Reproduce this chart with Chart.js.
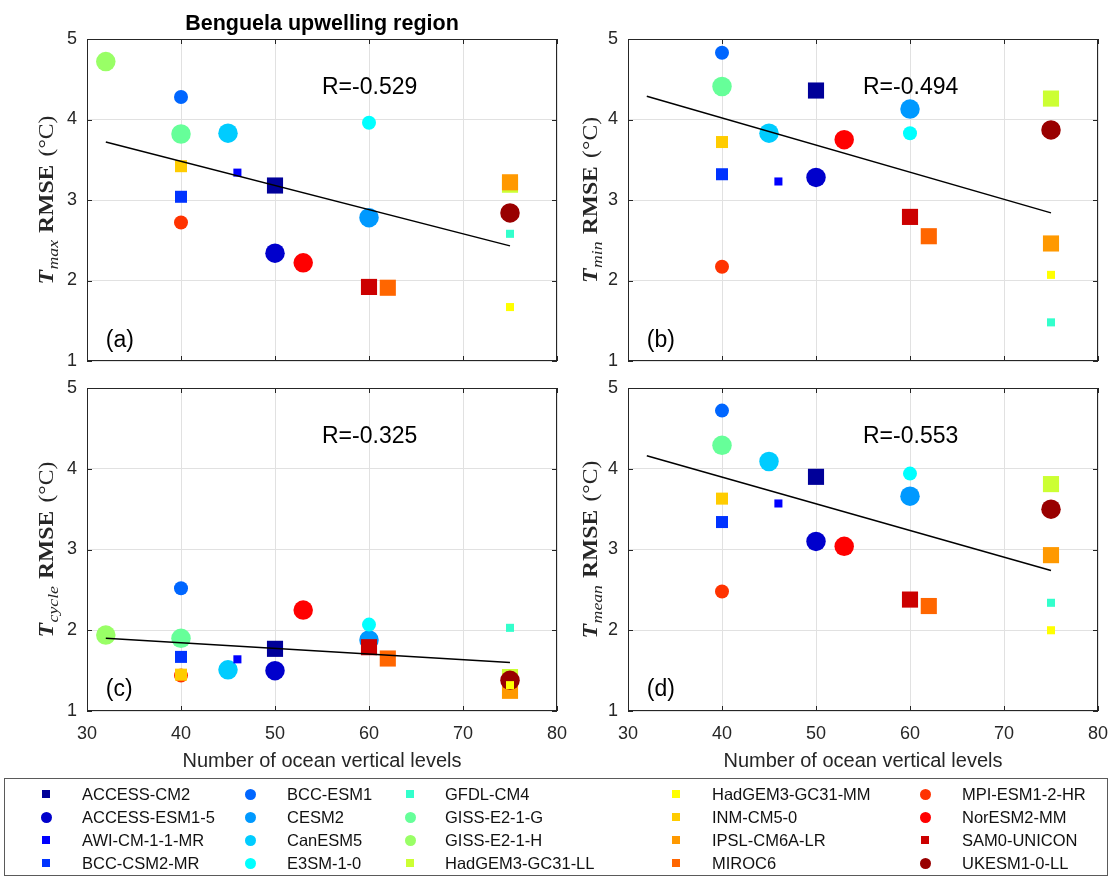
<!DOCTYPE html>
<html>
<head>
<meta charset="utf-8">
<title>Benguela upwelling region</title>
<script src="https://cdn.jsdelivr.net/npm/chart.js@4.4.1/dist/chart.umd.min.js"></script>
<style>
    body { margin: 0; background: #fff; width: 1112px; height: 878px; position: relative; overflow: hidden;
           font-family: "Liberation Sans", Arial, sans-serif; }
    canvas { position: absolute; }
    #legendBox { position: absolute; left: 4px; top: 778px; width: 1104px; height: 98px;
                 border: 1px solid #5a5a5a; box-sizing: border-box; }
    .lgText { position: absolute; font-size: 16.5px; line-height: 20px; color: #111; white-space: nowrap; }
    .lgMark { position: absolute; }
</style>
</head>
<body>
<canvas id="chartA" width="580" height="395" style="left:0;top:0"></canvas>
<canvas id="chartB" width="582" height="395" style="left:540px;top:0"></canvas>
<canvas id="chartC" width="580" height="442" style="left:0;top:350px"></canvas>
<canvas id="chartD" width="582" height="442" style="left:540px;top:350px"></canvas>
<div id="legendBox"></div>

<script>
// data
const models = ["ACCESS-CM2", "ACCESS-ESM1-5", "AWI-CM-1-1-MR", "BCC-CSM2-MR", "BCC-ESM1",
    "CESM2", "CanESM5", "E3SM-1-0", "GFDL-CM4", "GISS-E2-1-G",
    "GISS-E2-1-H", "HadGEM3-GC31-LL", "HadGEM3-GC31-MM", "INM-CM5-0", "IPSL-CM6A-LR",
    "MIROC6", "MPI-ESM1-2-HR", "NorESM2-MM", "SAM0-UNICON", "UKESM1-0-LL"];
const levels = [50, 50, 46, 40, 40, 60, 45, 60, 75, 40, 32, 75, 75, 40, 75, 62, 40, 53, 60, 75];

const tmaxRmse = [3.18, 2.34, 3.34, 3.04, 4.28, 2.78, 3.83, 3.96, 2.58, 3.82,
    4.72, 3.19, 1.67, 3.42, 3.22, 1.91, 2.72, 2.22, 1.92, 2.84];
// GISS-E2-1-H is off the axis (above 5) in (b) and (d)
const tminRmse = [4.36, 3.28, 3.23, 3.32, 4.83, 4.13, 3.83, 3.83, 1.48, 4.41,
    null, 4.26, 2.07, 3.72, 2.46, 2.55, 2.17, 3.75, 2.79, 3.87];
const tcycleRmse = [1.77, 1.50, 1.64, 1.67, 2.52, 1.88, 1.51, 2.07, 2.03, 1.90,
    1.94, 1.42, 1.32, 1.45, 1.25, 1.65, 1.44, 2.25, 1.79, 1.38];
const tmeanRmse = [3.90, 3.10, 3.57, 3.34, 4.72, 3.66, 4.09, 3.94, 2.34, 4.29,
    null, 3.81, 2.00, 3.63, 2.93, 2.30, 2.48, 3.04, 2.38, 3.50];

// fitted lines (end points)
const trendX = [32, 75];
const trendMax = [3.72, 2.43];
const trendMin = [4.29, 2.84];
const trendCycle = [1.90, 1.60];
const trendMean = [4.16, 2.74];

const rLabels = ["R=-0.529", "R=-0.494", "R=-0.325", "R=-0.553"];
const panelLetters = ["(a)", "(b)", "(c)", "(d)"];
const xTicks = [30, 40, 50, 60, 70, 80];
const yTicks = [1, 2, 3, 4, 5];

// styles
const colors = ["#000099", "#0000cc", "#0000ff", "#0033ff", "#0066ff",
    "#0099ff", "#00ccff", "#00ffff", "#33ffcc", "#66ff99",
    "#99ff66", "#ccff33", "#ffff00", "#ffcc00", "#ff9900",
    "#ff6600", "#ff3300", "#ff0000", "#cc0000", "#990000"];
const markerKinds = ["bigSq", "bigCi", "smSq", "mdSq", "mdCi",
    "bigCi", "bigCi", "mdCi", "smSq", "bigCi",
    "bigCi", "bigSq", "smSq", "mdSq", "bigSq",
    "bigSq", "mdCi", "bigCi", "bigSq", "bigCi"];
const kindStyle = {
    bigCi: { shape: "circle", r: 9.75, layer: 0 },
    bigSq: { shape: "rect", r: 11.4, layer: 0 },
    mdCi: { shape: "circle", r: 7, layer: 1 },
    mdSq: { shape: "rect", r: 8.5, layer: 2 },
    smSq: { shape: "rect", r: 5.7, layer: 3 }
};
const AXIS = "#262626";
const SERIF = '"Liberation Serif", "Times New Roman", serif';

Chart.defaults.font.family = '"Liberation Sans", Arial, sans-serif';

function drawYLabel(ctx, baseX, centerY, sub) {
    const parts = [
        { t: "T", f: "italic bold 20px " + SERIF, dy: 0, gap: 0 },
        { t: sub, f: "italic 15px " + SERIF, dy: 5, gap: 0.5 },
        { t: "RMSE", f: "bold 20px " + SERIF, dy: 0, gap: 6 },
        { t: "(°C)", f: "20px " + SERIF, dy: 0, gap: 7 }
    ];
    ctx.save();
    ctx.translate(baseX, centerY);
    ctx.rotate(-Math.PI / 2);
    ctx.scale(1.18, 1);
    let total = 0;
    parts.forEach(p => {
        ctx.font = p.f;
        p.w = ctx.measureText(p.t).width;
        total += p.gap + p.w;
    });
    let xx = -total / 2;
    ctx.fillStyle = AXIS;
    ctx.textBaseline = "alphabetic";
    ctx.textAlign = "left";
    parts.forEach(p => {
        xx += p.gap;
        ctx.font = p.f;
        ctx.fillText(p.t, xx, p.dy);
        xx += p.w;
    });
    ctx.restore();
}

const panelDeco = {
    id: "panelDeco",
    afterDraw(chart, args, opts) {
        const ctx = chart.ctx;
        const a = chart.chartArea;
        const x = chart.scales.x;
        const y = chart.scales.y;
        ctx.save();

        // box and inward ticks
        ctx.strokeStyle = AXIS;
        ctx.lineWidth = 1;
        ctx.strokeRect(a.left + 0.5, a.top + 0.5, a.right - a.left - 1, a.bottom - a.top - 1);
        ctx.beginPath();
        xTicks.forEach(v => {
            const px = Math.round(x.getPixelForValue(v)) + 0.5;
            ctx.moveTo(px, a.bottom); ctx.lineTo(px, a.bottom - 5);
            ctx.moveTo(px, a.top); ctx.lineTo(px, a.top + 5);
        });
        yTicks.forEach(v => {
            const py = Math.round(y.getPixelForValue(v)) + 0.5;
            ctx.moveTo(a.left, py); ctx.lineTo(a.left + 5, py);
            ctx.moveTo(a.right, py); ctx.lineTo(a.right - 5, py);
        });
        ctx.stroke();

        // R value and panel letter
        ctx.fillStyle = "#000";
        ctx.font = '23px "Liberation Sans", Arial, sans-serif';
        ctx.textAlign = "left";
        ctx.textBaseline = "alphabetic";
        ctx.fillText(opts.r, x.getPixelForValue(55), y.getPixelForValue(4.32));
        ctx.fillText(opts.letter, x.getPixelForValue(32), y.getPixelForValue(1.18));

        drawYLabel(ctx, a.left - opts.labelGap, (a.top + a.bottom) / 2, opts.sub);

        if (opts.title) {
            ctx.fillStyle = "#000";
            ctx.font = 'bold 21.5px "Liberation Sans", Arial, sans-serif';
            ctx.textAlign = "center";
            ctx.fillText(opts.title, (a.left + a.right) / 2, a.top - 9);
        }
        if (opts.xTitle) {
            ctx.fillStyle = AXIS;
            ctx.font = '20px "Liberation Sans", Arial, sans-serif';
            ctx.textAlign = "center";
            ctx.fillText(opts.xTitle, (a.left + a.right) / 2, a.bottom + 56);
        }
        ctx.restore();
    }
};

function makePanel(canvasId, values, trend, deco, box) {
    const datasets = models.map((name, i) => {
        const k = kindStyle[markerKinds[i]];
        return {
            label: name,
            data: values[i] === null ? [] : [{ x: levels[i], y: values[i] }],
            pointStyle: k.shape,
            pointRadius: k.r,
            pointHoverRadius: k.r,
            backgroundColor: colors[i],
            borderWidth: 0,
            order: 1000 - (k.layer * 100 + i)
        };
    });
    datasets.push({
        type: "line",
        label: "fit",
        data: trendX.map((v, k) => ({ x: v, y: trend[k] })),
        borderColor: "#000",
        borderWidth: 1.5,
        pointRadius: 0,
        fill: false,
        order: 0
    });

    const gridStyle = { color: "#e1e1e1", lineWidth: 1, drawTicks: false };
    new Chart(document.getElementById(canvasId), {
        type: "scatter",
        data: { datasets: datasets },
        options: {
            responsive: false,
            animation: false,
            devicePixelRatio: 1,
            events: [],
            layout: { padding: box.padding },
            plugins: {
                legend: { display: false },
                tooltip: { enabled: false },
                panelDeco: deco
            },
            scales: {
                x: {
                    type: "linear", min: 30, max: 80,
                    ticks: { stepSize: 10, display: box.showX, padding: 12, color: AXIS, font: { size: 18 } },
                    grid: gridStyle,
                    border: { display: false },
                    afterFit: s => { s.height = box.xHeight; }
                },
                y: {
                    type: "linear", min: 1, max: 5,
                    ticks: { stepSize: 1, padding: 10, color: AXIS, font: { size: 18 } },
                    grid: gridStyle,
                    border: { display: false },
                    afterFit: s => { s.width = box.yWidth; }
                }
            }
        },
        plugins: [panelDeco]
    });
}

const xTitle = "Number of ocean vertical levels";

// plot areas: (a) 87-557 x 39-361, (b) 628-1098 x 39-361, (c)/(d) same columns at 388-711
makePanel("chartA", tmaxRmse, trendMax,
    { r: rLabels[0], letter: panelLetters[0], sub: "max", labelGap: 34, title: "Benguela upwelling region" },
    { padding: { left: 0, top: 39, right: 23, bottom: 26 }, yWidth: 87, xHeight: 8, showX: false });
makePanel("chartB", tminRmse, trendMin,
    { r: rLabels[1], letter: panelLetters[1], sub: "min", labelGap: 31 },
    { padding: { left: 0, top: 39, right: 24, bottom: 26 }, yWidth: 88, xHeight: 8, showX: false });
makePanel("chartC", tcycleRmse, trendCycle,
    { r: rLabels[2], letter: panelLetters[2], sub: "cycle", labelGap: 34, xTitle: xTitle },
    { padding: { left: 0, top: 38, right: 23, bottom: 41 }, yWidth: 87, xHeight: 40, showX: true });
makePanel("chartD", tmeanRmse, trendMean,
    { r: rLabels[3], letter: panelLetters[3], sub: "mean", labelGap: 31, xTitle: xTitle },
    { padding: { left: 0, top: 38, right: 24, bottom: 41 }, yWidth: 88, xHeight: 40, showX: true });

// legend below the panels
const legendMarkX = [46, 250, 410, 676, 925];
const legendTextX = [82, 287, 445, 712, 962];
const legendRowY = [794, 817, 840, 863];

models.forEach((name, i) => {
    const col = Math.floor(i / 4);
    const row = i % 4;
    const k = kindStyle[markerKinds[i]];
    const mark = document.createElement("div");
    mark.className = "lgMark";
    const size = k.shape === "circle" ? 11 : 8;
    mark.style.width = size + "px";
    mark.style.height = size + "px";
    mark.style.left = (legendMarkX[col] - size / 2) + "px";
    mark.style.top = (legendRowY[row] - size / 2) + "px";
    mark.style.background = colors[i];
    if (k.shape === "circle") mark.style.borderRadius = "50%";
    document.body.appendChild(mark);

    const txt = document.createElement("div");
    txt.className = "lgText";
    txt.textContent = name;
    txt.style.left = legendTextX[col] + "px";
    txt.style.top = (legendRowY[row] - 10) + "px";
    document.body.appendChild(txt);
});
</script>
</body>
</html>
